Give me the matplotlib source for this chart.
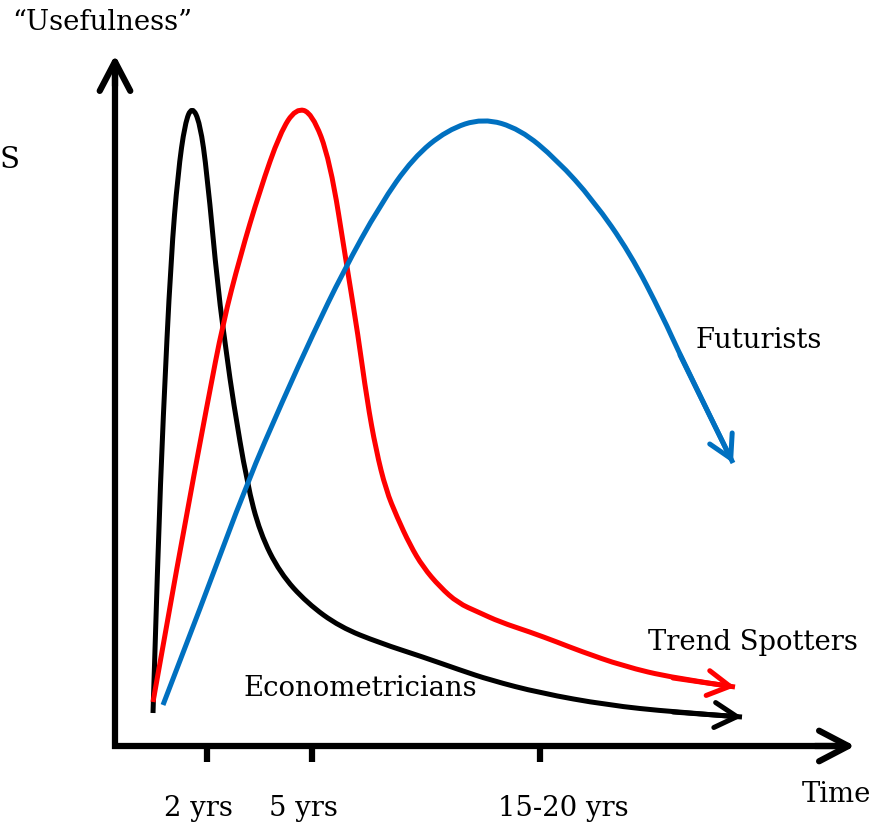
import numpy as np
import matplotlib
matplotlib.use('Agg')
import matplotlib.pyplot as plt
from matplotlib.path import Path
from matplotlib.patches import PathPatch

# Curves: time (x) vs "usefulness" (y), arbitrary units
econ_t = [38, 43, 48, 56, 63, 70, 77, 85, 92, 103, 112, 118, 132, 145, 165, 192, 225,
          265, 308, 345, 375, 425, 492, 558, 627]
econ_u = [33, 196, 326, 489, 573, 623, 640, 623, 573, 456, 389, 346, 263, 213, 173, 143,
          119, 103, 89, 76, 66, 53, 41, 34, 29]

trend_t = [38, 65, 93, 108, 125, 145, 165, 181, 197, 215, 232, 243, 252, 261, 271, 282,
           295, 308, 325, 343, 363, 385, 415, 442, 465, 508, 558, 620]
trend_u = [44, 196, 346, 423, 489, 556, 613, 638, 633, 586, 479, 411, 346, 296, 256, 229,
           201, 179, 159, 143, 134, 124, 114, 104, 95, 80, 68, 59]

fut_t = [48, 90, 132, 168, 198, 228, 265, 298, 332, 368, 405, 442, 478, 515, 548, 565, 618]
fut_u = [41, 150, 263, 346, 412, 474, 541, 588, 616, 628, 617, 586, 546, 493, 429, 391, 283]

tick_pos = [92, 197, 425]
tick_labels = ['2 yrs', '5 yrs', '15-20 yrs']

series = [
    ('Econometricians', econ_t, econ_u, 'black', (245, 58)),
    ('Trend Spotters', trend_t, trend_u, '#ff0000', (638, 104)),
    ('Futurists', fut_t, fut_u, '#0070c0', (644, 405)),
]

FONT = 'DejaVu Serif'
FS = 19.8


def smooth_path(xs, ys):
    # quadratic b-spline through the read points as control points
    pts = list(zip(xs, ys))
    verts = [pts[0]]
    codes = [Path.MOVETO]
    for i in range(1, len(pts) - 1):
        nxt = pts[i + 1] if i == len(pts) - 2 else (
            (pts[i][0] + pts[i + 1][0]) / 2, (pts[i][1] + pts[i + 1][1]) / 2)
        verts += [pts[i], nxt]
        codes += [Path.CURVE3, Path.CURVE3]
    return Path(verts, codes)


def arrow_head(ax, tip, frm, color, lw, scale, hl, hw):
    ax.annotate('', xy=tip, xytext=frm,
                arrowprops=dict(arrowstyle='->,head_length=%s,head_width=%s' % (hl, hw),
                                color=color, lw=lw, shrinkA=0, shrinkB=0,
                                mutation_scale=scale, capstyle='round',
                                joinstyle='round'))


fig = plt.figure(figsize=(8.78, 8.27), dpi=100)
ax = fig.add_axes([0, 0, 1, 1])
ax.set_xlim(-115, 763)
ax.set_ylim(-81, 746)
ax.axis('off')

# axes with arrows
ax.plot([0, 0], [-3, 680], color='black', lw=4.5, solid_capstyle='butt')
ax.plot([-3, 730], [0, 0], color='black', lw=4.5, solid_capstyle='butt')
arrow_head(ax, (0, 691), (0, 660), 'black', 4.5, 20, 1.05, 0.55)
arrow_head(ax, (740, 0), (700, 0), 'black', 4.5, 20, 1.05, 0.55)
for p in tick_pos:
    ax.plot([p, p], [0, -16], color='black', lw=4.5, solid_capstyle='butt')

for name, t, u, c, (lx, ly) in series:
    ax.add_patch(PathPatch(smooth_path(t, u), facecolor='none', edgecolor=c,
                           lw=3.6, capstyle='butt', joinstyle='round'))
    arrow_head(ax, (t[-1], u[-1]), (t[-2], u[-2]), c, 3.6, 20, 0.8, 0.45)
    ax.text(lx, ly, name, ha='center', va='center', fontsize=FS, family=FONT)

# tick labels / axis titles
ticklabel_t = [83, 188, 448]
for x, lab in zip(ticklabel_t, tick_labels):
    ax.text(x, -62, lab, ha='center', va='center', fontsize=FS, family=FONT)
ax.text(721, -48, 'Time', ha='center', va='center', fontsize=FS, family=FONT)
ax.text(-13, 724, '\u201cUsefulness\u201d', ha='center', va='center', fontsize=FS, family=FONT)
ax.text(-115, 586, 'S', ha='left', va='center', fontsize=21, family=FONT)

fig.savefig('out.png', dpi=100)
